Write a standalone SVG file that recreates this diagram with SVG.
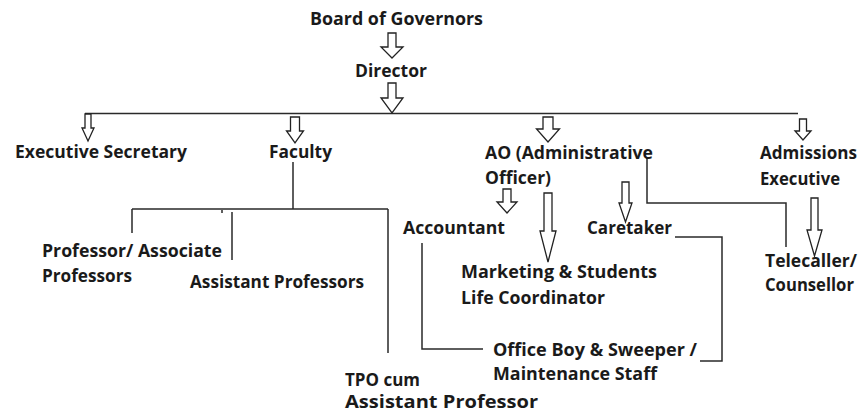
<svg xmlns="http://www.w3.org/2000/svg" width="859" height="413" viewBox="0 0 859 413">
<style>
text{font-family:"Open Sans","Liberation Sans",sans-serif;font-weight:bold;font-size:17px;fill:#1a1a1a}
.ln{fill:none;stroke:#2a2a2a;stroke-width:1.5}
.ar{fill:#fff;stroke:#222;stroke-width:1.3;stroke-linejoin:miter}
</style>
<rect width="859" height="413" fill="#fff"/>
<g id="connectors">
<path class="ln" d="M85 113.5H798"/>
<path class="ln" d="M293 162V209M132 209H388M132 209V233M232 212V260M388 209V353M222 210V213"/>
<path class="ln" d="M422 243V349H483"/>
<path class="ln" d="M675 237H722V361H700"/>
<path class="ln" d="M647 158V203H786V247"/>
<polygon class="ar" points="388,33 396,33 396,47 403,47 392,58 381,47 388,47"/>
<polygon class="ar" points="388,83 396,83 396,98 403,98 392,113 381,98 388,98"/>
<polygon class="ar" points="85,114 91,114 91,128 94,128 88,141 82,128 85,128"/>
<polygon class="ar" points="290.5,117 299.5,117 299.5,131 303.5,131 295,143 286.5,131 290.5,131"/>
<polygon class="ar" points="543,117 553,117 553,129 559.5,129 548,142 536.5,129 543,129"/>
<polygon class="ar" points="799.5,119 806.5,119 806.5,131 811,131 803,140 795,131 799.5,131"/>
<polygon class="ar" points="503,189 511,189 511,202 517,202 507,213 497,202 503,202"/>
<polygon class="ar" points="544,193 552,193 552,231 556,231 548,262 540,231 544,231"/>
<polygon class="ar" points="622,182 629,182 629,203 632,203 625.5,222 619,203 622,203"/>
<polygon class="ar" points="811,198 818,198 818,230 822,230 814.5,256 807,230 811,230"/>
</g>
<g id="board"><text x="310" y="25" textLength="173" lengthAdjust="spacingAndGlyphs">Board of Governors</text></g>
<g id="director"><text x="355" y="77" textLength="72" lengthAdjust="spacingAndGlyphs">Director</text></g>
<g id="exec-secretary"><text x="15" y="158" textLength="172" lengthAdjust="spacingAndGlyphs">Executive Secretary</text></g>
<g id="faculty"><text x="269" y="158" textLength="63" lengthAdjust="spacingAndGlyphs">Faculty</text></g>
<g id="ao"><text x="485" y="159" textLength="168" lengthAdjust="spacingAndGlyphs">AO (Administrative</text><text x="485" y="184" textLength="66" lengthAdjust="spacingAndGlyphs">Officer)</text></g>
<g id="admissions"><text x="760" y="159" textLength="97" lengthAdjust="spacingAndGlyphs">Admissions</text><text x="760" y="185" textLength="80" lengthAdjust="spacingAndGlyphs">Executive</text></g>
<g id="accountant"><text x="403" y="234" textLength="102" lengthAdjust="spacingAndGlyphs">Accountant</text></g>
<g id="caretaker"><text x="587" y="234" textLength="85" lengthAdjust="spacingAndGlyphs">Caretaker</text></g>
<g id="marketing"><text x="461" y="278" textLength="196" lengthAdjust="spacingAndGlyphs">Marketing &amp; Students</text><text x="461" y="304" textLength="144" lengthAdjust="spacingAndGlyphs">Life Coordinator</text></g>
<g id="telecaller"><text x="765" y="267" textLength="92" lengthAdjust="spacingAndGlyphs">Telecaller/</text><text x="765" y="291" textLength="89" lengthAdjust="spacingAndGlyphs">Counsellor</text></g>
<g id="professor"><text x="42" y="257" textLength="180" lengthAdjust="spacingAndGlyphs">Professor/ Associate</text><text x="42" y="282" textLength="90" lengthAdjust="spacingAndGlyphs">Professors</text></g>
<g id="assistant-professors"><text x="190" y="288" textLength="174" lengthAdjust="spacingAndGlyphs">Assistant Professors</text></g>
<g id="tpo"><text x="345" y="386" textLength="75" lengthAdjust="spacingAndGlyphs">TPO cum</text><text x="345" y="408" textLength="193" lengthAdjust="spacingAndGlyphs">Assistant Professor</text></g>
<g id="office-boy"><text x="493" y="356" textLength="204" lengthAdjust="spacingAndGlyphs">Office Boy &amp; Sweeper /</text><text x="493" y="380" textLength="164" lengthAdjust="spacingAndGlyphs">Maintenance Staff</text></g>
</svg>
